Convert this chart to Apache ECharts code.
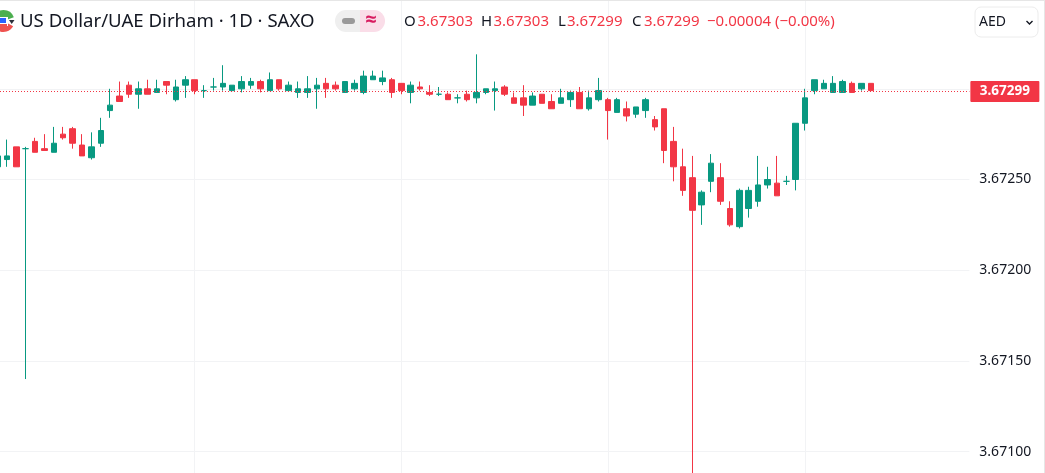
<!DOCTYPE html>
<html>
<head>
<meta charset="utf-8">
<title>US Dollar/UAE Dirham</title>
<style>
    html, body { margin: 0; padding: 0; background: #fff; }
    #chart { width: 1045px; height: 473px; }
</style>
<script src="https://cdn.jsdelivr.net/npm/echarts@6/dist/echarts.min.js"></script>
</head>
<body>
<div id="chart"></div>
<script>
var opens = [
    3.67257, 3.67261, 3.67268, 3.67267, 3.67271, 3.67267, 3.67265, 3.67275, 3.67278, 3.67269,
    3.67262, 3.67270, 3.67288, 3.67296, 3.67302, 3.67297, 3.67300, 3.67298, 3.67304, 3.67294,
    3.67302, 3.67305, 3.67299, 3.67301, 3.67301, 3.67299, 3.67300, 3.67302, 3.67304, 3.67299,
    3.67305, 3.67299, 3.67298, 3.67298, 3.67300, 3.67303, 3.67302, 3.67298, 3.67300, 3.67298,
    3.67305, 3.67304, 3.67305, 3.67303, 3.67298, 3.67301, 3.67298, 3.67297, 3.67297, 3.67295,
    3.67297, 3.67295, 3.67298, 3.67299, 3.67301, 3.67295, 3.67295, 3.67291, 3.67297, 3.67293,
    3.67292, 3.67294, 3.67298, 3.67289, 3.67294, 3.67294, 3.67287, 3.67289, 3.67286, 3.67288,
    3.67283, 3.67289, 3.67271, 3.67257, 3.67251, 3.67236, 3.67249, 3.67251, 3.67234, 3.67224,
    3.67234, 3.67238, 3.67247, 3.67248, 3.67249, 3.67250, 3.67281, 3.67299, 3.67300, 3.67298,
    3.67298, 3.67303, 3.67300, 3.67303
];
var closes = [
    3.67263, 3.67263, 3.67257, 3.67267, 3.67265, 3.67266, 3.67270, 3.67273, 3.67270, 3.67263,
    3.67268, 3.67277, 3.67291, 3.67293, 3.67297, 3.67300, 3.67297, 3.67300, 3.67302, 3.67301,
    3.67305, 3.67299, 3.67299, 3.67301, 3.67303, 3.67302, 3.67304, 3.67304, 3.67300, 3.67305,
    3.67300, 3.67302, 3.67300, 3.67300, 3.67302, 3.67300, 3.67300, 3.67304, 3.67303, 3.67307,
    3.67307, 3.67306, 3.67298, 3.67299, 3.67302, 3.67300, 3.67297, 3.67297, 3.67294, 3.67295,
    3.67294, 3.67298, 3.67300, 3.67300, 3.67297, 3.67292, 3.67291, 3.67296, 3.67292, 3.67289,
    3.67295, 3.67298, 3.67289, 3.67295, 3.67299, 3.67288, 3.67294, 3.67285, 3.67290, 3.67294,
    3.67279, 3.67266, 3.67257, 3.67244, 3.67233, 3.67243, 3.67259, 3.67238, 3.67225, 3.67244,
    3.67244, 3.67247, 3.67250, 3.67241, 3.67249, 3.67281, 3.67295, 3.67305, 3.67303, 3.67303,
    3.67304, 3.67298, 3.67303, 3.67299
];
var lows = [
    3.67255, 3.67257, 3.67257, 3.67140, 3.67265, 3.67266, 3.67265, 3.67272, 3.67267, 3.67263,
    3.67261, 3.67268, 3.67284, 3.67293, 3.67295, 3.67289, 3.67297, 3.67298, 3.67297, 3.67293,
    3.67295, 3.67297, 3.67295, 3.67299, 3.67299, 3.67299, 3.67298, 3.67300, 3.67298, 3.67299,
    3.67299, 3.67299, 3.67295, 3.67295, 3.67289, 3.67295, 3.67299, 3.67298, 3.67299, 3.67297,
    3.67305, 3.67302, 3.67295, 3.67297, 3.67292, 3.67299, 3.67296, 3.67296, 3.67294, 3.67292,
    3.67293, 3.67292, 3.67297, 3.67288, 3.67296, 3.67292, 3.67285, 3.67291, 3.67292, 3.67289,
    3.67292, 3.67290, 3.67289, 3.67288, 3.67293, 3.67272, 3.67287, 3.67282, 3.67284, 3.67284,
    3.67277, 3.67259, 3.67249, 3.67241, 3.67085, 3.67225, 3.67243, 3.67236, 3.67224, 3.67223,
    3.67229, 3.67235, 3.67245, 3.67241, 3.67247, 3.67244, 3.67277, 3.67297, 3.67300, 3.67298,
    3.67298, 3.67298, 3.67299, 3.67299
];
var highs = [
    3.67264, 3.67272, 3.67268, 3.67268, 3.67273, 3.67275, 3.67279, 3.67279, 3.67279, 3.67275,
    3.67276, 3.67284, 3.67300, 3.67304, 3.67304, 3.67304, 3.67305, 3.67305, 3.67304, 3.67305,
    3.67307, 3.67305, 3.67302, 3.67306, 3.67313, 3.67302, 3.67307, 3.67306, 3.67305, 3.67309,
    3.67305, 3.67304, 3.67304, 3.67307, 3.67306, 3.67306, 3.67304, 3.67304, 3.67305, 3.67310,
    3.67310, 3.67310, 3.67306, 3.67303, 3.67304, 3.67304, 3.67302, 3.67301, 3.67298, 3.67297,
    3.67299, 3.67319, 3.67300, 3.67304, 3.67302, 3.67298, 3.67302, 3.67298, 3.67297, 3.67297,
    3.67300, 3.67299, 3.67301, 3.67299, 3.67306, 3.67295, 3.67295, 3.67293, 3.67290, 3.67295,
    3.67285, 3.67289, 3.67279, 3.67267, 3.67263, 3.67244, 3.67264, 3.67259, 3.67238, 3.67245,
    3.67246, 3.67263, 3.67257, 3.67263, 3.67252, 3.67281, 3.67300, 3.67305, 3.67305, 3.67307,
    3.67305, 3.67304, 3.67303, 3.67303
];
var lastPrice = 3.67299;
var hiddenTicks = [3.673, 3.6735];
var emptyBars = 10;
var gridBars = [21, 43, 65, 86];

var title = 'US Dollar/UAE Dirham \u00b7 1D \u00b7 SAXO';
var ohlcLabels = ['O', 'H', 'L', 'C'];
var ohlcValues = ['3.67303', '3.67303', '3.67299', '3.67299'];
var ohlcLabelX = [404, 481, 558, 632];
var ohlcValueX = [417.5, 493.5, 567, 644];
var changeText = '\u22120.00004 (\u22120.00%)';
var currency = 'AED';

var UP = '#089981', DOWN = '#F23645', INK = '#131722';
var FONT = '"Noto Sans", "Open Sans", sans-serif';

var categories = [];
for (var c = 0; c < opens.length + emptyBars; c++) {
    categories.push(String(c));
}
var candles = [];
for (var i = 0; i < opens.length; i++) {
    candles.push([opens[i], closes[i], lows[i], highs[i]]);
}

// 顶部标题栏
var header = [
    {type: 'rect', shape: {x: 0, y: 0, width: 1045, height: 1}, style: {fill: '#e6e6e6'}},
    {type: 'rect', shape: {x: 1044, y: 0, width: 1, height: 473}, style: {fill: '#e6e6e6'}},
    {type: 'text', style: {x: 20, y: 22, text: title, font: '18.6px ' + FONT, fill: INK, textVerticalAlign: 'middle'}},
    {type: 'rect', shape: {x: 335, y: 10, width: 25, height: 22, r: [11, 0, 0, 11]}, style: {fill: '#efefef'}},
    {type: 'rect', shape: {x: 342, y: 18, width: 13, height: 6, r: 3}, style: {fill: '#9a9a9a'}},
    {type: 'rect', shape: {x: 360, y: 10, width: 25, height: 22, r: [0, 11, 11, 0]}, style: {fill: '#fadde8'}},
    {type: 'text', style: {x: 371, y: 20, text: '\u2248', font: 'bold 20px ' + FONT, fill: '#d81b60', textAlign: 'center', textVerticalAlign: 'middle'}},
    {type: 'text', style: {x: 707, y: 22, text: changeText, font: '15px ' + FONT, fill: DOWN, textVerticalAlign: 'middle'}},
    {type: 'rect', shape: {x: 975, y: 7, width: 63, height: 30, r: 6}, style: {fill: '#fff', stroke: '#ececec', lineWidth: 1}},
    {type: 'text', style: {x: 979, y: 22, text: currency, font: '14px ' + FONT, fill: INK, textVerticalAlign: 'middle'}},
    {type: 'polyline', shape: {points: [[1026.5, 21], [1029.5, 24], [1032.5, 21]]}, style: {stroke: INK, fill: null, lineWidth: 1.4}},
    // 国旗图标
    {type: 'circle', shape: {cx: 3.5, cy: 21, r: 11}, style: {fill: '#fff'}},
    {type: 'sector', shape: {cx: 3.5, cy: 21, r: 11, startAngle: -Math.PI, endAngle: -0.35}, style: {fill: '#4caf50'}},
    {type: 'sector', shape: {cx: 3.5, cy: 21, r: 11, startAngle: 0.5, endAngle: Math.PI}, style: {fill: '#ef5350'}},
    {type: 'rect', shape: {x: 0, y: 17, width: 8, height: 9}, style: {fill: '#fff'}},
    {type: 'rect', shape: {x: 0, y: 18, width: 6, height: 5}, style: {fill: '#2962ff'}},
    {type: 'rect', shape: {x: 0, y: 24, width: 7, height: 2}, style: {fill: '#ef5350'}},
    {type: 'polygon', shape: {points: [[9, 20], [14.5, 20], [11.7, 24]]}, style: {fill: '#2a2e39'}}
];
for (var k = 0; k < ohlcLabels.length; k++) {
    header.push({type: 'text', style: {x: ohlcLabelX[k], y: 22, text: ohlcLabels[k], font: '15px ' + FONT, fill: INK, textVerticalAlign: 'middle'}});
    header.push({type: 'text', style: {x: ohlcValueX[k], y: 22, text: ohlcValues[k], font: '15px ' + FONT, fill: DOWN, textVerticalAlign: 'middle'}});
}
for (var h = 0; h < header.length; h++) {
    header[h].z = 100;
}

// 最新价虚线和右侧价格标签
function renderLastPrice(params, api) {
    var y = Math.round(api.coord([0, api.value(1)])[1]);
    var right = params.coordSys.x + params.coordSys.width;
    return {
        type: 'group',
        children: [
            {type: 'line', shape: {x1: 0, y1: y + 0.5, x2: right, y2: y + 0.5}, style: {stroke: DOWN, lineWidth: 1, lineDash: [1, 2]}},
            {type: 'rect', shape: {x: right + 1, y: y - 10, width: 69, height: 21, r: 1}, style: {fill: DOWN}},
            {type: 'text', style: {
                x: right + 35.5,
                y: y + 0.5,
                text: api.value(1).toFixed(5),
                font: 'bold 13.5px ' + FONT,
                fill: '#fff',
                textAlign: 'center',
                textVerticalAlign: 'middle'
            }}
        ]
    };
}

var myChart = echarts.init(document.getElementById('chart'));
var option = {
    animation: false,
    backgroundColor: '#fff',
    grid: {left: -7.2, top: -1.9, width: 976.56, height: 544.2, outerBoundsMode: 'none', containLabel: false},
    xAxis: {
        type: 'category',
        data: categories,
        axisLine: {show: false},
        axisTick: {show: false},
        axisLabel: {show: false},
        splitLine: {
            show: true,
            alignWithLabel: true,
            interval: function (index) {
                return gridBars.indexOf(index) >= 0;
            },
            lineStyle: {color: '#f2f3f5', width: 1}
        }
    },
    yAxis: {
        type: 'value',
        position: 'right',
        min: 3.6705,
        max: 3.6735,
        interval: 0.0005,
        axisLine: {show: false},
        axisTick: {show: false},
        axisLabel: {
            margin: 10,
            padding: [2, 0, 0, 0],
            color: INK,
            fontSize: 14,
            fontFamily: FONT,
            formatter: function (v) {
                for (var t = 0; t < hiddenTicks.length; t++) {
                    if (Math.abs(v - hiddenTicks[t]) < 1e-6) {
                        return '';
                    }
                }
                return v.toFixed(5);
            }
        },
        splitLine: {show: true, lineStyle: {color: '#f2f3f5', width: 1}}
    },
    graphic: {elements: header},
    series: [{
        type: 'candlestick',
        data: candles,
        barWidth: 6,
        itemStyle: {
            color: UP,
            color0: DOWN,
            borderColor: UP,
            borderColor0: DOWN,
            borderColorDoji: UP,
            borderWidth: 1
        }
    }, {
        type: 'custom',
        data: [[0, lastPrice]],
        encode: {x: 0, y: 1},
        silent: true,
        clip: false,
        z: 5,
        renderItem: renderLastPrice
    }]
};
myChart.setOption(option);
</script>
</body>
</html>
